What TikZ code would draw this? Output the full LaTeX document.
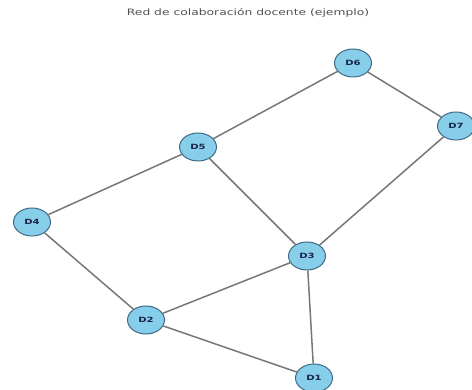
\documentclass[tikz,border=0pt]{standalone}
\usepackage{fontspec}
\setmainfont{DejaVu Sans}
\usepackage{graphicx}
\usetikzlibrary{shapes.geometric}
\definecolor{nodefill}{HTML}{87CEEB}
\definecolor{nodeedge}{HTML}{3E6A85}
\definecolor{edgecol}{HTML}{777777}
\definecolor{labcol}{HTML}{1A2448}
\definecolor{titlecol}{HTML}{505050}
\tikzset{
  dnode/.style={ellipse, draw=nodeedge, fill=nodefill, line width=1pt,
    minimum width=37pt, minimum height=28pt, inner sep=0pt,
    font=\fontsize{7.2}{8}\selectfont\bfseries, text=labcol},
  edge/.style={draw=edgecol, line width=1.5pt},
}
\begin{document}
\begin{tikzpicture}[x=1pt,y=-1pt]
\useasboundingbox (0,0) rectangle (472,390);
\node[text=titlecol, font=\fontsize{8.8}{10}\selectfont] (title) at (248,13) {\scalebox{1.4}[1]{Red de colaboración docente (ejemplo)}};
\node[dnode] (D6) at (353,63) {\scalebox{1.4}[1]{D6}};
\node[dnode] (D7) at (456,126) {\scalebox{1.4}[1]{D7}};
\node[dnode] (D5) at (198,147) {\scalebox{1.4}[1]{D5}};
\node[dnode] (D4) at (32,222) {\scalebox{1.4}[1]{D4}};
\node[dnode] (D3) at (307,256) {\scalebox{1.4}[1]{D3}};
\node[dnode] (D2) at (146,320) {\scalebox{1.4}[1]{D2}};
\node[dnode] (D1) at (314,378) {\scalebox{1.4}[1]{D1}};
\draw[edge] (D6) -- (D5);
\draw[edge] (D6) -- (D7);
\draw[edge] (D5) -- (D4);
\draw[edge] (D5) -- (D3);
\draw[edge] (D7) -- (D3);
\draw[edge] (D4) -- (D2);
\draw[edge] (D3) -- (D2);
\draw[edge] (D3) -- (D1);
\draw[edge] (D2) -- (D1);
\end{tikzpicture}
\end{document}
